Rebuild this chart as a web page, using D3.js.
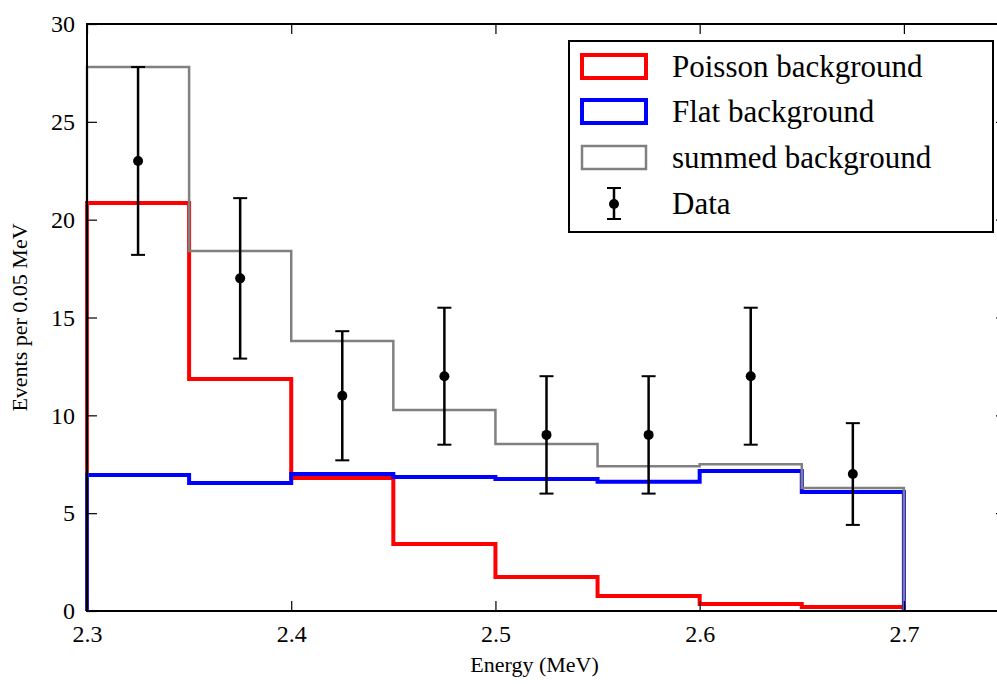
<!DOCTYPE html>
<html>
<head>
<meta charset="utf-8">
<script src="https://cdn.jsdelivr.net/npm/d3@7"></script>
<style>
  body { margin: 0; background: #fff; }
  svg { display: block; }
  svg text { font-family: "Liberation Serif", "DejaVu Serif", "Times New Roman", serif !important; fill: #000; }
</style>
</head>
<body>
<div id="chart"></div>
<script>
// bin edges (MeV), 0.05 wide
const binEdges = [2.30, 2.35, 2.40, 2.45, 2.50, 2.55, 2.60, 2.65, 2.70];
const poissonBg = [20.85, 11.86, 6.80, 3.42, 1.74, 0.77, 0.36, 0.20];
const flatBg = [6.95, 6.54, 7.00, 6.85, 6.75, 6.60, 7.15, 6.08];
const summedBg = [27.80, 18.40, 13.80, 10.27, 8.53, 7.40, 7.50, 6.28];

const dataX = [2.325, 2.375, 2.425, 2.475, 2.525, 2.575, 2.625, 2.675];
const dataY = [23, 17, 11, 12, 9, 9, 12, 7];
const dataErr = [4.8, 4.1, 3.3, 3.5, 3.0, 3.0, 3.5, 2.6];

const xTicks = [2.3, 2.4, 2.5, 2.6, 2.7];
const yTicks = [0, 5, 10, 15, 20, 25, 30];

const legendItems = [
    { label: "Poisson background", color: "#ff0000", width: 4, type: "patch" },
    { label: "Flat background", color: "#0000ff", width: 4, type: "patch" },
    { label: "summed background", color: "#808080", width: 2.5, type: "patch" },
    { label: "Data", color: "#000", type: "err" }
];

const width = 997, height = 684;
const margin = { left: 87, top: 24, bottom: 73 };
const plotRight = 1006; // axis runs a bit past the window edge

const x = d3.scaleLinear().domain([2.3, 2.75]).range([margin.left, plotRight]);
const y = d3.scaleLinear().domain([0, 30]).range([height - margin.bottom, margin.top]);

const svg = d3.select("#chart").append("svg")
    .attr("width", width)
    .attr("height", height);

function stepPoints(values) {
    const pts = [[binEdges[0], 0]];
    values.forEach((v, i) => {
        pts.push([binEdges[i], v]);
        pts.push([binEdges[i + 1], v]);
    });
    pts.push([binEdges[binEdges.length - 1], 0]);
    return pts;
}

const line = d3.line().x(d => x(d[0])).y(d => y(d[1]));

const series = [
    { values: poissonBg, color: "#ff0000", width: 4 },
    { values: flatBg, color: "#0000ff", width: 4 },
    { values: summedBg, color: "#808080", width: 2.5 }
];

svg.append("g").selectAll("path")
    .data(series)
    .join("path")
    .attr("d", d => line(stepPoints(d.values)))
    .attr("fill", "none")
    .attr("stroke", d => d.color)
    .attr("stroke-width", d => d.width)
    .attr("stroke-linejoin", "miter");

// error bars
const errG = svg.append("g");
dataX.forEach((xv, i) => {
    const cx = x(xv);
    const lo = y(dataY[i] - dataErr[i]), hi = y(dataY[i] + dataErr[i]);
    errG.append("line").attr("x1", cx).attr("x2", cx).attr("y1", lo).attr("y2", hi)
        .attr("stroke", "#000").attr("stroke-width", 2.5);
    [lo, hi].forEach(yy => {
        errG.append("line").attr("x1", cx - 7).attr("x2", cx + 7).attr("y1", yy).attr("y2", yy)
            .attr("stroke", "#000").attr("stroke-width", 2);
    });
    errG.append("circle").attr("cx", cx).attr("cy", y(dataY[i])).attr("r", 5).attr("fill", "#000");
});

// frame
svg.append("rect")
    .attr("x", x(2.3)).attr("y", y(30))
    .attr("width", x(2.75) - x(2.3)).attr("height", y(0) - y(30))
    .attr("fill", "none").attr("stroke", "#000").attr("stroke-width", 2);

// axes with inward ticks
const fmtX = d3.format(".1f");
const bottomAxis = d3.axisBottom(x).tickValues(xTicks).tickSize(-10).tickPadding(14).tickFormat(fmtX);
const topAxis = d3.axisTop(x).tickValues(xTicks).tickSize(-10).tickFormat("");
const leftAxis = d3.axisLeft(y).tickValues(yTicks).tickSize(-10).tickPadding(12);
const rightAxis = d3.axisRight(y).tickValues(yTicks).tickSize(-10).tickFormat("");

function styleAxis(g) {
    g.attr("font-family", null);
    g.select(".domain").remove();
    g.selectAll(".tick line").attr("stroke", "#000").attr("stroke-width", 1.2);
    g.selectAll(".tick text").attr("font-size", 24);
}

svg.append("g").attr("transform", `translate(0,${y(0)})`).call(bottomAxis).call(styleAxis);
svg.append("g").attr("transform", `translate(0,${y(30)})`).call(topAxis).call(styleAxis);
svg.append("g").attr("transform", `translate(${x(2.3)},0)`).call(leftAxis).call(styleAxis);
svg.append("g").attr("transform", `translate(${x(2.75)},0)`).call(rightAxis).call(styleAxis);

// axis labels
svg.append("text")
    .attr("x", (x(2.3) + x(2.75)) / 2 - 12).attr("y", 672)
    .attr("text-anchor", "middle").attr("font-size", 22)
    .text("Energy (MeV)");

svg.append("text")
    .attr("transform", `translate(27,${(y(0) + y(30)) / 2}) rotate(-90)`)
    .attr("text-anchor", "middle").attr("font-size", 22)
    .text("Events per 0.05 MeV");

// legend
const legend = svg.append("g").attr("transform", "translate(569,41)");
legend.append("rect")
    .attr("width", 424).attr("height", 191)
    .attr("fill", "#fff").attr("stroke", "#000").attr("stroke-width", 2);

const rowY = [26, 71, 117, 163];
legendItems.forEach((d, i) => {
    const g = legend.append("g").attr("transform", `translate(0,${rowY[i]})`);
    if (d.type === "patch") {
        g.append("rect")
            .attr("x", 13).attr("y", -12)
            .attr("width", 64).attr("height", 23)
            .attr("fill", "none").attr("stroke", d.color).attr("stroke-width", d.width);
    } else {
        g.append("line").attr("x1", 45).attr("x2", 45).attr("y1", -16).attr("y2", 15)
            .attr("stroke", "#000").attr("stroke-width", 2.5);
        [-16, 15].forEach(yy => g.append("line").attr("x1", 38).attr("x2", 52)
            .attr("y1", yy).attr("y2", yy).attr("stroke", "#000").attr("stroke-width", 2));
        g.append("circle").attr("cx", 45).attr("cy", 0).attr("r", 5).attr("fill", "#000");
    }
    g.append("text")
        .attr("x", 103).attr("y", 10)
        .attr("font-size", 31)
        .text(d.label);
});
</script>
</body>
</html>
